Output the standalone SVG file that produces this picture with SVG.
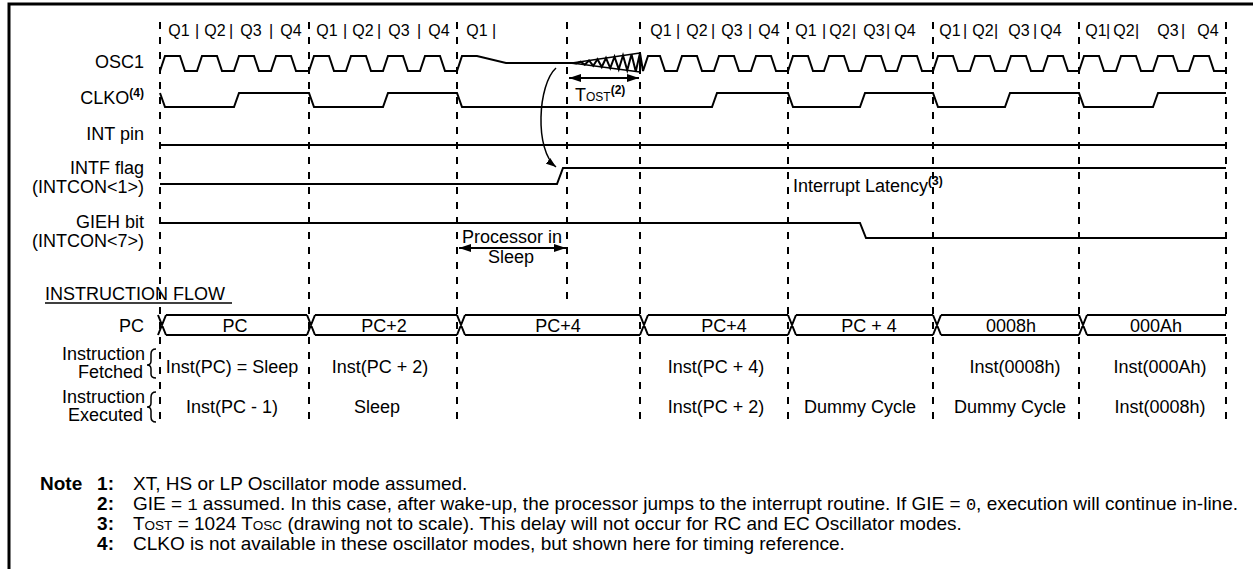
<svg xmlns="http://www.w3.org/2000/svg" width="1253" height="569" viewBox="0 0 1253 569">
<defs>
<style>
text{font-family:"Liberation Sans",Arial,sans-serif;font-size:18px;fill:#000}
.q{font-size:16px}
.sup{font-weight:bold;font-size:12px}
.b{font-weight:bold}
.sc{font-size:12px}
.nt{font-size:19px}
.nsc{font-size:13.5px}
.mono{font-family:"Liberation Mono","Courier New",monospace;font-size:17px}
.w{fill:none;stroke:#000;stroke-width:2;stroke-linejoin:miter}
.thin{fill:none;stroke:#000;stroke-width:1.5}
.dash{fill:none;stroke:#000;stroke-width:2;stroke-dasharray:7 8}
.mid{text-anchor:middle}
.end{text-anchor:end}
</style>
<marker id="ah" viewBox="0 0 12 8" refX="12" refY="4" markerWidth="12" markerHeight="8" markerUnits="userSpaceOnUse" orient="auto-start-reverse">
<path d="M0,0 L12,4 L0,8 Z" fill="#000"/>
</marker>
<marker id="ahs" viewBox="0 0 10 7" refX="10" refY="3.5" markerWidth="10" markerHeight="7" markerUnits="userSpaceOnUse" orient="auto">
<path d="M0,0 L10,3.5 L0,7 Z" fill="#000"/>
</marker>
</defs>

<g id="frame">
<path d="M9,569 V4 H1253" fill="none" stroke="#000" stroke-width="3"/>
</g>

<g id="gridlines">
<path class="dash" d="M160,22 V424 M309,22 V424 M457,22 V424 M640,22 V424 M788,22 V424 M933,22 V424 M1079,22 V424 M1226,22 V424 M567,22 V306"/>
</g>

<g id="q-labels">
<text class="q mid" x="179" y="36">Q1</text><text class="q mid" x="197" y="36">|</text><text class="q mid" x="215" y="36">Q2</text><text class="q mid" x="231" y="36">|</text><text class="q mid" x="251" y="36">Q3</text><text class="q mid" x="271" y="36">|</text><text class="q mid" x="291" y="36">Q4</text>
<text class="q mid" x="327" y="36">Q1</text><text class="q mid" x="345" y="36">|</text><text class="q mid" x="363" y="36">Q2</text><text class="q mid" x="379" y="36">|</text><text class="q mid" x="399" y="36">Q3</text><text class="q mid" x="419" y="36">|</text><text class="q mid" x="439" y="36">Q4</text>
<text class="q mid" x="477" y="36">Q1</text><text class="q mid" x="494" y="36">|</text>
<text class="q mid" x="661" y="36">Q1</text><text class="q mid" x="678" y="36">|</text><text class="q mid" x="697" y="36">Q2</text><text class="q mid" x="713" y="36">|</text><text class="q mid" x="732" y="36">Q3</text><text class="q mid" x="750" y="36">|</text><text class="q mid" x="769" y="36">Q4</text>
<text class="q mid" x="806" y="36">Q1</text><text class="q mid" x="824" y="36">|</text><text class="q mid" x="840" y="36">Q2</text><text class="q mid" x="854" y="36">|</text><text class="q mid" x="874" y="36">Q3</text><text class="q mid" x="888" y="36">|</text><text class="q mid" x="905" y="36">Q4</text>
<text class="q mid" x="950" y="36">Q1</text><text class="q mid" x="965" y="36">|</text><text class="q mid" x="983" y="36">Q2</text><text class="q mid" x="996" y="36">|</text><text class="q mid" x="1019" y="36">Q3</text><text class="q mid" x="1035" y="36">|</text><text class="q mid" x="1051" y="36">Q4</text>
<text class="q mid" x="1096" y="36">Q1</text><text class="q mid" x="1108" y="36">|</text><text class="q mid" x="1124" y="36">Q2</text><text class="q mid" x="1137" y="36">|</text><text class="q mid" x="1168" y="36">Q3</text><text class="q mid" x="1183" y="36">|</text><text class="q mid" x="1208" y="36">Q4</text>
</g>

<g id="osc1">
<text class="end" x="144" y="68">OSC1</text>
<path class="w" d="M160,71 L165,56 L180,56 L185,71 L197,71 L202,56 L217,56 L222,71 L234,71 L239,56 L254,56 L259,71 L271,71 L276,56 L291,56 L296,71 L309,71 L314,56 L329,56 L334,71 L346,71 L351,56 L366,56 L371,71 L383,71 L388,56 L403,56 L408,71 L420,71 L425,56 L440,56 L445,71 L457,71 L462,56 L477,56 L506,63 L572,63 L576.25,63.56 L580.5,61.75 L584.75,64.69 L589,60.5 L593.25,65.81 L597.5,59.25 L601.75,66.94 L606,58 L610.25,68.06 L614.5,56.75 L618.75,69.19 L623,55.5 L627.25,70.31 L631.5,54.25 L635.75,71.44 L640,53"/>
<path class="thin" d="M572,63 L640,53 M572,63 L640,72"/>
<path class="w" d="M640,53 L640,72 M640,53 L643,71 L648,56 L660,56 L665,71 L677,71 L682,56 L697,56 L702,71 L714,71 L719,56 L734,56 L739,71 L751,71 L756,56 L771,56 L776,71 L788,71 L793,56 L808,56 L813,71 L824,71 L829,56 L844,56 L849,71 L861,71 L866,56 L881,56 L886,71 L897,71 L902,56 L917,56 L922,71 L933,71 L938,56 L953,56 L958,71 L970,71 L975,56 L990,56 L995,71 L1006,71 L1011,56 L1026,56 L1031,71 L1043,71 L1048,56 L1063,56 L1068,71 L1079,71 L1084,56 L1099,56 L1104,71 L1116,71 L1121,56 L1136,56 L1141,71 L1153,71 L1158,56 L1173,56 L1178,71 L1189,71 L1194,56 L1209,56 L1214,71 L1226,71"/>
</g>

<g id="clko">
<text class="end" x="144" y="104">CLKO<tspan class="sup" dy="-7">(4)</tspan></text>
<path class="w" d="M160,93 L165,107 L234,107 L239,93 L309,93 L314,107 L383,107 L388,93 L457,93 L462,107 L712,107 L717,93 L788,93 L793,107 L860,107 L865,93 L933,93 L938,107 L1005,107 L1010,93 L1079,93 L1084,107 L1153,107 L1158,93 L1226,93"/>
</g>

<g id="int-pin">
<text class="end" x="144" y="140">INT pin</text>
<path class="w" d="M160,145 H1226" stroke-width="2.5"/>
</g>

<g id="intf-flag">
<text class="end" x="144" y="174">INTF flag</text>
<text class="end" x="144" y="193">(INTCON&lt;1&gt;)</text>
<path class="w" d="M160,184 H557 L563,168 H1226"/>
</g>

<g id="gieh-bit">
<text class="end" x="144" y="228">GIEH bit</text>
<text class="end" x="144" y="247">(INTCON&lt;7&gt;)</text>
<path class="w" d="M160,223 H860 L866,238 H1226"/>
</g>

<g id="annotations">
<text x="575" y="101">T<tspan class="sc">OST</tspan><tspan class="sup" dy="-7">(2)</tspan></text>
<text class="mid" x="512" y="243">Processor in</text>
<text class="mid" x="511" y="263">Sleep</text>
<text x="793" y="192">Interrupt Latency<tspan class="sup" dy="-7">(3)</tspan></text>
</g>

<g id="connectors">
<path class="w" d="M569,78 H639" marker-start="url(#ah)" marker-end="url(#ah)"/>
<path class="w" d="M459,248 H566" marker-start="url(#ah)" marker-end="url(#ah)"/>
<path class="thin" d="M556,68 C538,84 534,150 556,167" marker-end="url(#ahs)"/>
</g>

<g id="instruction-flow">
<text x="45" y="300">INSTRUCTION FLOW</text>
<path d="M45,303 H232" stroke="#000" stroke-width="1.5"/>
</g>

<g id="pc-bus">
<text class="end" x="144" y="332">PC</text>
<path class="w" d="M158,315 L166,335 M158,335 L166,315 M307,315 L315,335 M307,335 L315,315 M457,315 L465,335 M457,335 L465,315 M640,315 L648,335 M640,335 L648,315 M788,315 L796,335 M788,335 L796,315 M933,315 L941,335 M933,335 L941,315 M1079,315 L1087,335 M1079,335 L1087,315"/>
<path class="w" d="M166,315 H307 M166,335 H307 M315,315 H457 M315,335 H457 M465,315 H640 M465,335 H640 M648,315 H788 M648,335 H788 M796,315 H933 M796,335 H933 M941,315 H1079 M941,335 H1079 M1087,315 H1226 M1087,335 H1226"/>
<text class="mid" x="235" y="332">PC</text>
<text class="mid" x="384" y="332">PC+2</text>
<text class="mid" x="558" y="332">PC+4</text>
<text class="mid" x="724" y="332">PC+4</text>
<text class="mid" x="869" y="332">PC + 4</text>
<text class="mid" x="1011" y="332">0008h</text>
<text class="mid" x="1156" y="332">000Ah</text>
</g>

<g id="instruction-fetched">
<text class="end" x="145" y="360">Instruction</text>
<text class="end" x="143" y="378">Fetched</text>
<path class="thin" d="M156,349 Q151,349 151,354 L151,361 Q151,365 147,365 Q151,365 151,369 L151,374 Q151,378 156,378" stroke-width="1"/>
<text class="mid" x="232" y="373">Inst(PC) = Sleep</text>
<text class="mid" x="380" y="373">Inst(PC + 2)</text>
<text class="mid" x="716" y="373">Inst(PC + 4)</text>
<text class="mid" x="1015" y="373">Inst(0008h)</text>
<text class="mid" x="1160" y="373">Inst(000Ah)</text>
</g>

<g id="instruction-executed">
<text class="end" x="145" y="403">Instruction</text>
<text class="end" x="143" y="421">Executed</text>
<path class="thin" d="M156,392 Q151,392 151,397 L151,403 Q151,407 147,407 Q151,407 151,411 L151,417 Q151,422 156,422" stroke-width="1"/>
<text class="mid" x="232" y="413">Inst(PC - 1)</text>
<text class="mid" x="377" y="413">Sleep</text>
<text class="mid" x="716" y="413">Inst(PC + 2)</text>
<text class="mid" x="860" y="413">Dummy Cycle</text>
<text class="mid" x="1010" y="413">Dummy Cycle</text>
<text class="mid" x="1160" y="413">Inst(0008h)</text>
</g>

<g id="notes">
<text class="nt b" x="40" y="490">Note</text>
<text class="nt b end" x="114" y="490">1:</text>
<text class="nt b end" x="114" y="510">2:</text>
<text class="nt b end" x="114" y="530">3:</text>
<text class="nt b end" x="114" y="550">4:</text>
<text class="nt" x="133" y="490">XT, HS or LP Oscillator mode assumed.</text>
<text class="nt" x="133" y="510">GIE = <tspan class="mono">1</tspan> assumed. In this case, after wake-up, the processor jumps to the interrupt routine. If GIE = <tspan class="mono">0</tspan>, execution will continue in-line.</text>
<text class="nt" x="133" y="530">T<tspan class="nsc">OST</tspan> = 1024 T<tspan class="nsc">OSC</tspan> (drawing not to scale). This delay will not occur for RC and EC Oscillator modes.</text>
<text class="nt" x="133" y="550">CLKO is not available in these oscillator modes, but shown here for timing reference.</text>
</g>
</svg>
